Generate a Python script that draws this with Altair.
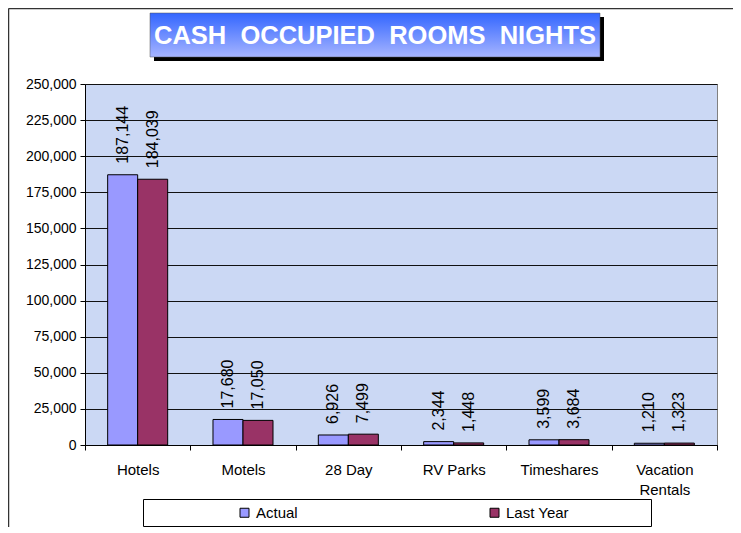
import altair as alt
import pandas as pd

categories = ["Hotels", "Motels", "28 Day", "RV Parks", "Timeshares", "Vacation Rentals"]
series = ["Actual", "Last Year"]
actual = [187144, 17680, 6926, 2344, 3599, 1210]
last_year = [184039, 17050, 7499, 1448, 3684, 1323]
y_ticks = [0, 25000, 50000, 75000, 100000, 125000, 150000, 175000, 200000, 225000, 250000]
title_text = "CASH\u00a0\u00a0OCCUPIED\u00a0\u00a0ROOMS\u00a0\u00a0NIGHTS"
colors = ["#9999FF", "#993366"]

rows = []
for c, a, l in zip(categories, actual, last_year):
    rows.append({"category": c, "series": series[0], "value": a})
    rows.append({"category": c, "series": series[1], "value": l})
df = pd.DataFrame(rows)

FONT = "Arial, Liberation Sans"

x_enc = alt.X(
    "category:N",
    sort=categories,
    scale=alt.Scale(paddingInner=0, paddingOuter=0),
    axis=alt.Axis(
        title=None,
        labelAngle=0,
        labelFontSize=15,
        labelFont=FONT,
        labelColor="black",
        labelPadding=12,
        labelLineHeight=20,
        labelExpr="datum.value == 'Vacation Rentals' ? ['Vacation', 'Rentals'] : datum.label",
        tickBand="extent",
        tickSize=5,
        tickColor="black",
        domainColor="black",
        grid=False,
    ),
)
xoff_enc = alt.XOffset(
    "series:N", sort=series, scale=alt.Scale(paddingOuter=0.755, paddingInner=0)
)
y_enc = alt.Y(
    "value:Q",
    scale=alt.Scale(domain=[0, 250000], nice=False),
    axis=alt.Axis(
        title=None,
        values=y_ticks,
        tickCount=len(y_ticks) + 1,
        labelOverlap=False,
        format=",d",
        labelFontSize=14,
        labelFont=FONT,
        labelColor="black",
        labelPadding=4,
        tickSize=5,
        tickColor="black",
        domainColor="black",
        grid=True,
        gridColor="#111111",
        gridWidth=1,
        gridOpacity=1,
    ),
)

base = alt.Chart(df)

bars = base.mark_bar(stroke="black", strokeWidth=1, opacity=1).encode(
    x=x_enc,
    xOffset=xoff_enc,
    y=y_enc,
    color=alt.Color(
        "series:N",
        sort=series,
        scale=alt.Scale(domain=series, range=colors),
        legend=alt.Legend(
            orient="none",
            legendX=152,
            legendY=421,
            direction="horizontal",
            title=None,
            symbolType="square",
            symbolSize=81,
            symbolStrokeColor="black",
            symbolStrokeWidth=1,
            symbolOpacity=1,
            labelFontSize=15,
            labelFont=FONT,
            labelColor="black",
            labelOffset=4,
            columnPadding=189,
            padding=0,
        ),
    ),
)

labels = base.mark_text(
    angle=270, align="left", baseline="middle", dx=11, fontSize=16, font=FONT, color="black"
).encode(
    x=x_enc,
    xOffset=xoff_enc,
    y=y_enc,
    text=alt.Text("value:Q", format=","),
)

one = alt.Chart(pd.DataFrame({"k": [0]}))

title_shadow = one.mark_rect(fill="black").encode(
    x=alt.value(69), x2=alt.value(519), y=alt.value(-67), y2=alt.value(-23)
)
title_box = one.mark_rect(
    fill=alt.LinearGradient(
        gradient="linear",
        stops=[
            alt.GradientStop(color="#3366FF", offset=0),
            alt.GradientStop(color="#A6B4FF", offset=1),
        ],
        x1=0, x2=0, y1=0, y2=1,
    ),
    stroke="#555555",
    strokeWidth=0.5,
).encode(x=alt.value(65), x2=alt.value(515), y=alt.value(-71), y2=alt.value(-27))
title_txt = one.mark_text(
    text=title_text,
    fontSize=25.5,
    fontWeight="bold",
    font=FONT,
    color="white",
    align="center",
    baseline="middle",
).encode(x=alt.value(290), y=alt.value(-48))

legend_box = one.mark_rect(fill="white", stroke="black", strokeWidth=1).encode(
    x=alt.value(58.5), x2=alt.value(566.5), y=alt.value(415.5), y2=alt.value(442.5)
)

frame_left = one.mark_rule(color="#333333", strokeWidth=1.5).encode(
    x=alt.value(-76.5), y=alt.value(-75.5), y2=alt.value(700)
)
frame_top = one.mark_rule(color="#333333", strokeWidth=1.5).encode(
    x=alt.value(-76.5), x2=alt.value(900), y=alt.value(-75.5)
)

chart = alt.layer(
    bars, labels, title_shadow, title_box, title_txt, legend_box, frame_left, frame_top
).properties(
    width=632,
    height=361,
    autosize=alt.AutoSizeParams(type="none"),
    padding={"left": 77, "top": 76, "right": 16, "bottom": 82},
    background="white",
).configure_view(
    fill="#CBD8F4", stroke="#808080", strokeWidth=1
)

chart.save("out.html", embed_options={"renderer": "svg", "actions": False})
